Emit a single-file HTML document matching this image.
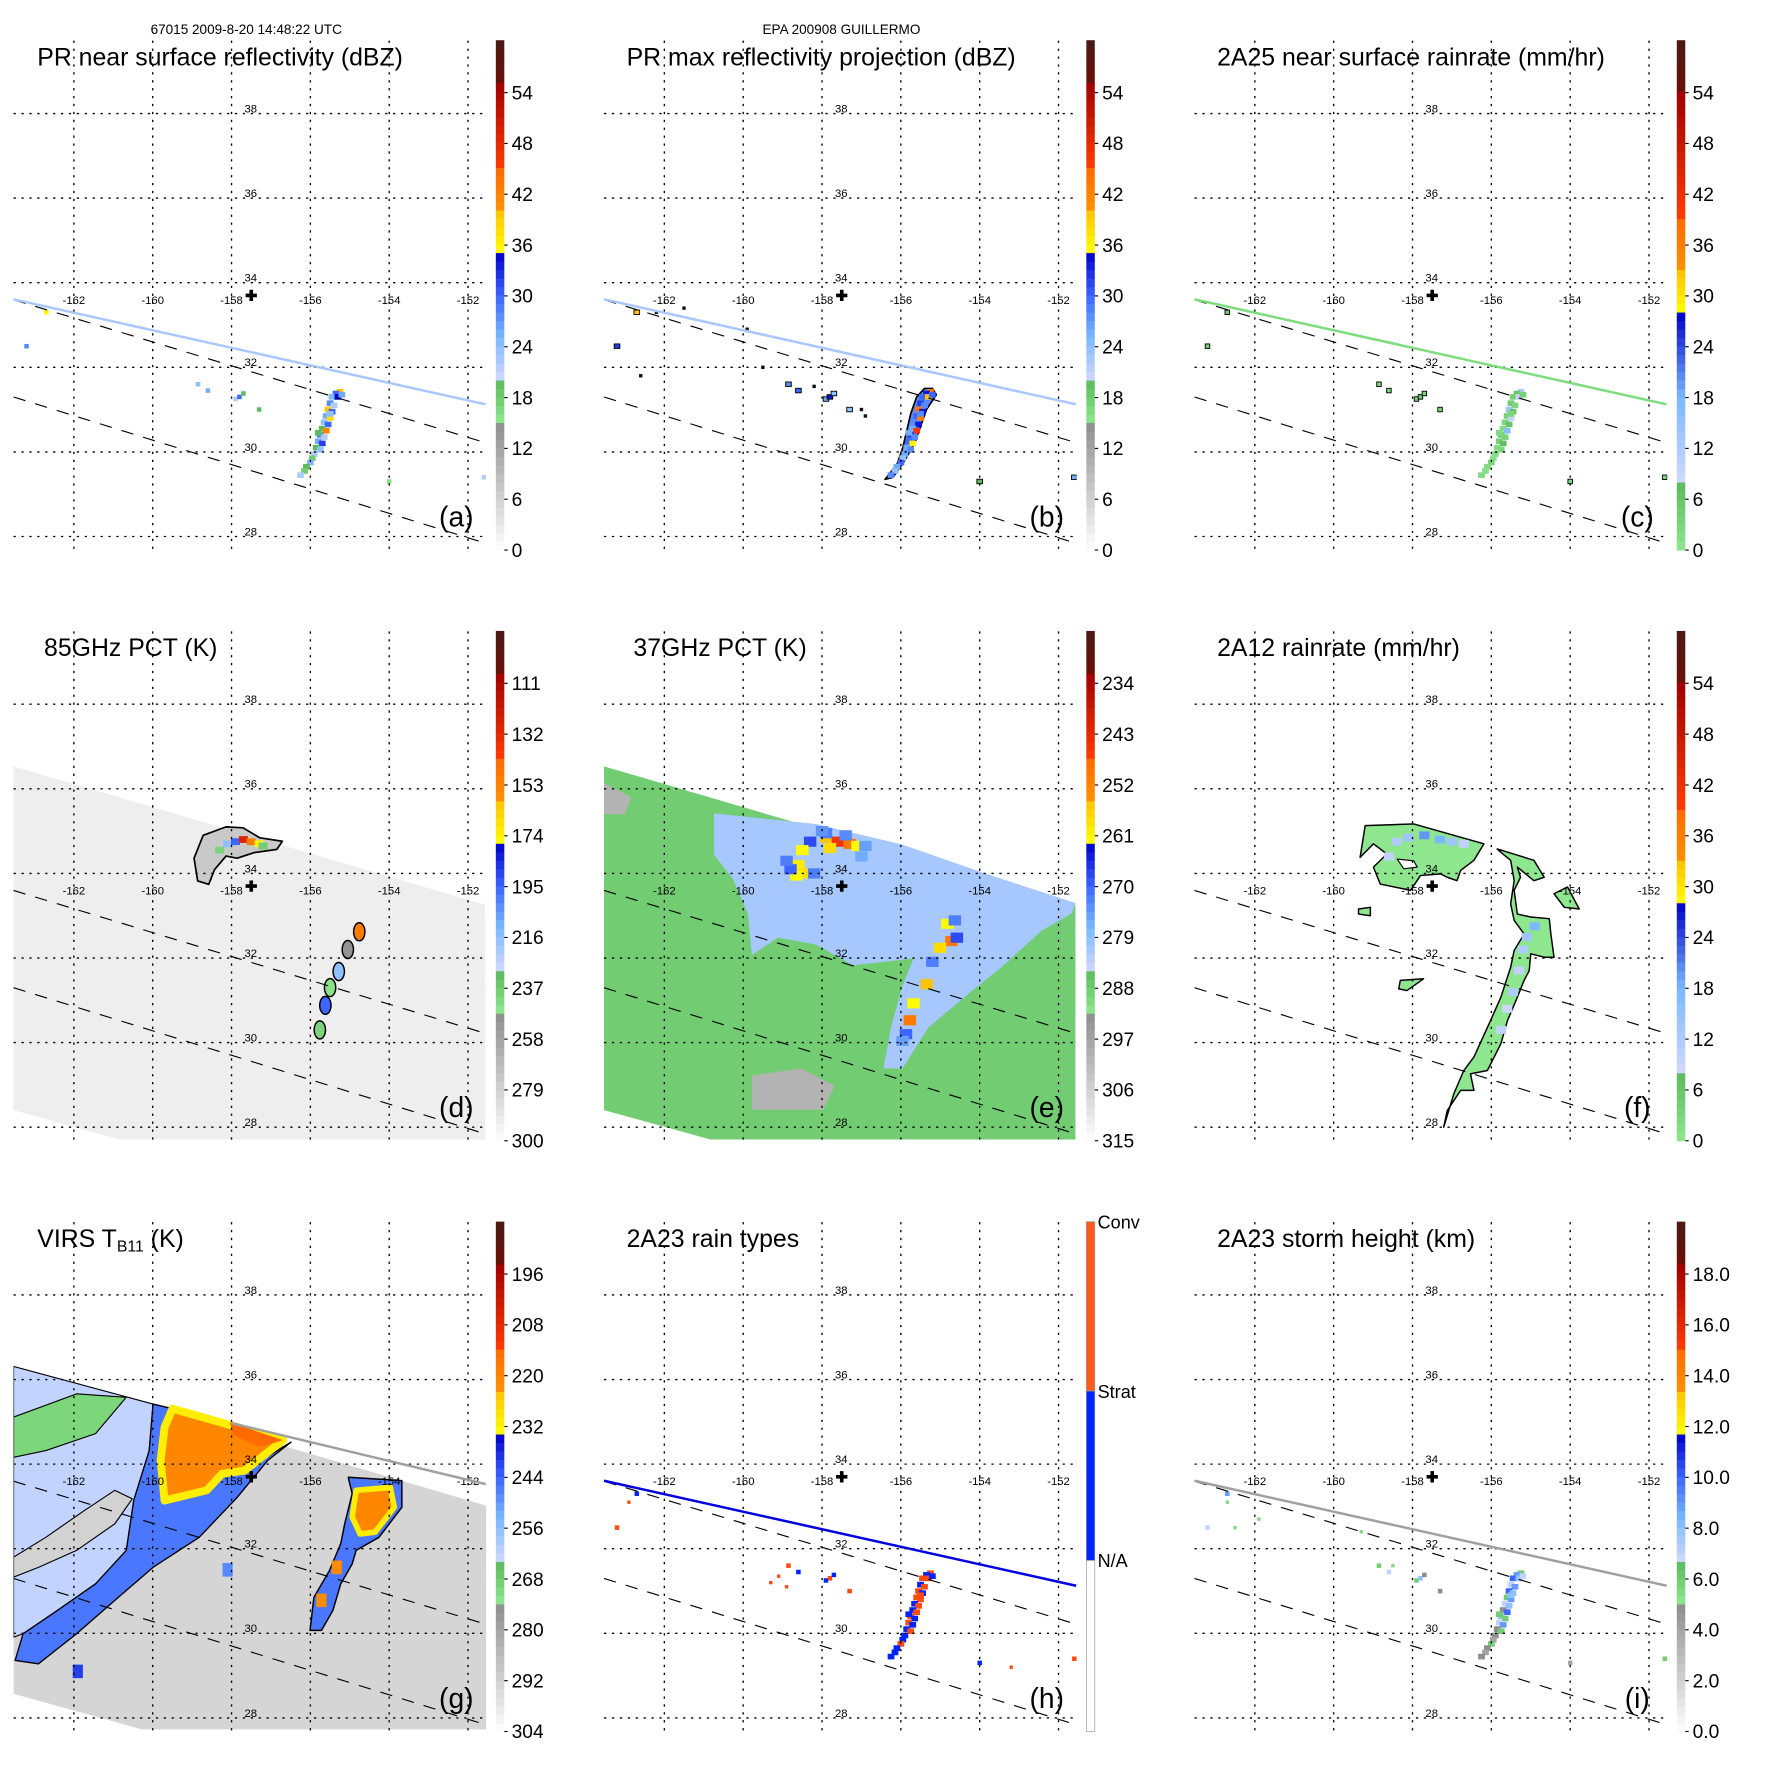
<!DOCTYPE html>
<html><head><meta charset="utf-8">
<style>
html,body{margin:0;padding:0;background:#fff;}
svg{display:block;font-family:"Liberation Sans",Arial,sans-serif;}
</style></head>
<body>
<svg id="fig" xmlns="http://www.w3.org/2000/svg" viewBox="0 0 1568 1568" width="1771" height="1771">
<rect x="0" y="0" width="1568" height="1568" fill="#fff"/>
<text x="218" y="30" font-size="12" text-anchor="middle">67015 2009-8-20 14:48:22 UTC</text>
<text x="745" y="30" font-size="12" text-anchor="middle">EPA 200908 GUILLERMO</text>
</svg>
<script>
// ---------- data ----------
const prCellLon = [-155.25,-155.35,-155.45,-155.3,-155.5,-155.4,-155.55,-155.45,-155.6,-155.5,-155.65,-155.55,-155.7,-155.6,-155.75,-155.65,-155.8,-155.7,-155.85,-155.75,-155.9,-155.95,-156.0,-156.1,-156.15,-156.25,-155.2,-155.5,-155.8];
const prCellLat = [31.42,31.38,31.30,31.3,31.15,31.1,31.0,30.95,30.85,30.8,30.7,30.65,30.55,30.5,30.4,30.35,30.25,30.2,30.1,30.05,29.95,29.85,29.75,29.65,29.55,29.45,31.35,30.9,30.45];
const reflA = [40,30,25,35,28,22,40,30,26,38,24,30,20,42,28,22,26,32,20,24,22,18,25,20,18,22,26,24,20];
const reflB = [44,34,30,40,32,28,44,34,30,42,28,34,26,46,32,28,30,36,26,28,26,24,30,26,24,28,30,28,26];
const rainC = [12,6,4,9,5,3,14,6,4,10,3,6,2,16,5,3,4,7,2,3,2,1,3,2,1,2,4,3,2];
const typeH = [2,1,2,2,1,2,2,1,2,2,1,2,1,2,2,1,2,1,1,2,1,1,2,1,1,1,1,2,1];
const heightI = [6,9,10,8,7,9,10,8,6,9,7,8,5,10,8,6,7,9,5,6,5,4,6,5,4,5,7,8,6];

const smallLon = [-157.9,-157.8,-157.7,-158.85,-158.6,-163.2,-162.7,-157.3,-154.0,-151.6];
const smallLat = [31.25,31.3,31.38,31.6,31.45,32.5,33.3,31.0,29.3,29.4];
const smallA = [22,30,20,24,26,28,36,20,16,22];

const specksLon = [-162.2,-161.5,-162.6,-159.9,-159.5,-158.2,-157.0,-156.9];
const specksLat = [33.3,33.4,31.8,32.9,32.0,31.55,31.0,30.85];

const outlineBLon = [-155.2,-155.1,-155.35,-155.5,-155.65,-155.9,-156.2,-156.4,-156.1,-155.95,-155.85,-155.75,-155.6,-155.4];
const outlineBLat = [31.5,31.35,31.0,30.6,30.2,29.8,29.4,29.35,29.7,30.1,30.5,30.9,31.3,31.5];

const swathLon = [-163.56,-151.57,-151.57,-160.83,-163.56];
const swathLat = [36.54,33.26,27.71,27.71,28.41];
const swathGLon = [-163.53,-151.54,-151.54,-160.28,-163.53];
const swathGLat = [36.31,33.02,27.73,27.73,28.57];

// panel d (85 GHz)
const dBlobLon = [-158.95,-158.72,-158.14,-157.71,-157.28,-156.71,-156.85,-157.43,-157.86,-158.14,-158.43,-158.58,-158.86];
const dBlobLat = [34.36,34.90,35.10,35.08,34.84,34.76,34.57,34.49,34.36,34.41,34.09,33.74,33.82];
const dCoreLon = [-158.1,-157.9,-157.7,-157.5,-157.3,-157.2,-158.3];
const dCoreLat = [34.7,34.75,34.8,34.75,34.7,34.65,34.55];
const dCoreVal = [216,195,130,150,174,237,240];
const dChainLon = [-154.76,-155.05,-155.28,-155.5,-155.62,-155.76];
const dChainLat = [32.62,32.2,31.68,31.3,30.88,30.3];
const dChainVal = [150,250,216,245,195,240];

// panel e (37 GHz)
const eBlueLon = [-160.74,-158.16,-155.96,-153.96,-151.57,-151.67,-152.43,-153.39,-154.25,-155.30,-155.96,-156.44,-156.25,-155.96,-155.68,-157.21,-158.16,-159.12,-159.78,-159.88,-160.26,-160.74];
const eBlueLat = [35.42,35.17,34.68,34.03,33.30,33.05,32.65,31.83,31.18,30.36,29.39,29.39,30.36,31.34,31.99,31.83,32.32,32.48,32.07,33.05,33.87,34.44];
const eGrayLon = [-159.78,-158.54,-157.68,-157.97,-159.78];
const eGrayLat = [29.22,29.39,28.98,28.41,28.41];
const eGray2Lon = [-163.56,-162.84,-163.0,-163.56];
const eGray2Lat = [36.15,35.8,35.4,35.4];
const eCellLon = [-158.3,-157.9,-157.6,-157.3,-157.1,-157.8,-158.5,-158.6,-158.45,-158.65,-158.8,-158.2,-157.9,-156.9,-158.0,-157.4,-154.82,-154.72,-155.01,-155.20,-155.34,-155.68,-155.77,-155.87,-154.63,-154.58,-155.96,-158.9,-157.0];
const eCellLat = [34.75,34.85,34.75,34.7,34.65,34.6,34.55,34.2,34.0,33.95,34.1,34.0,34.95,34.65,35.0,34.9,32.81,32.40,32.24,31.91,31.38,30.93,30.53,30.20,32.89,32.48,30.04,34.3,34.4];
const eCellVal = [268,255,245,250,262,258,262,260,259,262,270,272,272,275,274,273,262,250,258,272,255,262,250,270,272,268,275,272,276];

// panel f (2A12)
const fNorthLon = [-159.20,-157.97,-156.19,-156.44,-156.78,-156.87,-157.12,-157.29,-157.80,-158.05,-158.82,-158.99,-158.65,-158.99,-159.33];
const fNorthLat = [35.13,35.17,34.70,34.31,34.07,33.83,33.91,33.99,33.95,33.60,33.75,34.15,34.46,34.70,34.38];
const fHoleLon = [-158.39,-157.97,-157.88,-158.22];
const fHoleLat = [34.34,34.30,34.15,34.11];
const fBandLon = [-155.85,-154.92,-154.66,-154.92,-155.34,-155.26,-155.42,-155.34,-155.00,-154.53,-154.49,-154.41,-154.66,-155.00,-155.04,-155.17,-155.34,-155.59,-155.76,-156.10,-156.53,-156.44,-156.78,-157.12,-157.21,-156.95,-156.70,-156.44,-156.02,-155.76,-155.51,-155.42,-155.17,-155.42,-155.51,-155.42,-155.51,-155.76];
const fBandLat = [34.58,34.31,33.91,33.83,34.15,33.91,33.60,33.04,32.97,32.93,32.57,32.02,32.02,32.10,31.70,31.47,31.07,30.52,29.97,29.34,29.26,28.87,28.87,28.39,28.00,28.79,29.34,29.66,30.52,31.07,31.78,32.18,32.57,32.89,33.28,33.83,34.31,34.50];
const fEastLon = [-154.41,-154.07,-153.77,-154.15];
const fEastLat = [33.52,33.68,33.16,33.20];
const fSmall1Lon = [-158.31,-157.72,-158.14,-158.35];
const fSmall1Lat = [31.47,31.51,31.23,31.27];
const fSmall2Lon = [-159.37,-159.07,-159.07,-159.37];
const fSmall2Lat = [33.16,33.20,33.00,33.04];
const fCellLon = [-158.4,-158.1,-157.7,-157.3,-157.0,-156.7,-154.9,-155.1,-155.2,-155.3,-155.45,-155.6,-155.75,-158.6];
const fCellLat = [34.75,34.85,34.9,34.8,34.75,34.7,32.75,32.5,32.2,31.7,31.2,30.8,30.3,34.4];
const fCellVal = [12,14,20,18,14,10,18,14,12,10,12,9,10,10];

// panel g (VIRS)
const gLightLon = [-163.53,-159.99,-160.09,-160.48,-160.67,-161.45,-162.42,-163.29,-163.53];
const gLightLat = [36.31,35.42,34.32,33.14,31.96,31.17,30.54,29.99,29.91];
const gGreenLon = [-163.53,-161.93,-160.67,-161.45,-162.71,-163.53];
const gGreenLat = [35.11,35.66,35.58,34.72,34.32,34.16];
const gGapLon = [-160.52,-160.96,-161.93,-162.90,-163.53,-163.53,-162.71,-161.74,-160.96];
const gGapLat = [33.18,32.59,31.96,31.56,31.33,31.80,32.27,32.90,33.38];
const gBlueLon = [-159.99,-159.50,-159.70,-158.63,-158.24,-157.66,-156.49,-157.08,-157.85,-158.82,-159.99,-160.96,-161.93,-162.90,-163.49,-163.29,-162.42,-161.45,-160.67,-160.48,-160.09];
const gBlueLat = [35.42,35.31,33.14,33.38,33.77,33.85,34.52,34.09,33.22,32.27,31.56,30.78,29.99,29.28,29.36,29.99,30.54,31.17,31.96,33.14,34.32];
const gOrangeLon = [-159.50,-156.69,-157.66,-158.24,-158.63,-159.70,-159.80,-159.70];
const gOrangeLat = [35.31,34.57,33.85,33.77,33.38,33.14,34.09,34.87];
const gRedLon = [-158.05,-156.69,-157.27,-157.95];
const gRedLat = [34.99,34.57,34.40,34.68];
const gChainLon = [-155.04,-153.68,-153.68,-154.26,-154.84,-154.94,-155.23,-155.43,-155.72,-156.01,-155.91,-155.52,-155.23,-155.13,-154.94];
const gChainLat = [33.69,33.61,32.98,32.27,31.96,31.64,31.17,30.54,30.07,30.07,30.85,31.48,32.12,32.59,33.30];
const gCoreLon = [-154.84,-153.97,-153.87,-154.36,-154.74,-154.94];
const gCoreLat = [33.38,33.45,32.98,32.39,32.35,32.75];
const gSpotLon = [-155.33,-155.72,-158.1,-161.9];
const gSpotLat = [31.56,30.78,31.5,29.1];
const gSpotVal = [222,222,248,240];

// scattered extras for h and i
const hDotLon = [-159.3,-159.1,-158.9,-162.9,-153.2];
const hDotLat = [31.2,31.35,31.1,33.1,29.2];
const iDotLon = [-162.7,-162.5,-161.9,-159.3,-158.5];
const iDotLat = [33.1,32.5,32.7,32.4,31.6];

// tick labels
const latTicks = [38,36,34,32,30,28];
const lonTicks = [-162,-160,-158,-156,-154,-152];
const labA = ['54','48','42','36','30','24','18','12','6','0'];
const labD = ['111','132','153','174','195','216','237','258','279','300'];
const labE = ['234','243','252','261','270','279','288','297','306','315'];
const labG = ['196','208','220','232','244','256','268','280','292','304'];
const labI = ['18.0','16.0','14.0','12.0','10.0','8.0','6.0','4.0','2.0','0.0'];
const labH = ['Conv','Strat','N/A'];

// ---------- geometry / styling ----------
const NS='http://www.w3.org/2000/svg';
const svg=document.getElementById('fig');
const colOff=[0,522.8,1045.6], rowOff=[0,523,1046];
const CMAPS={
 std:[[0,'#ffffff'],[0.253,'#8c8c8c'],[0.2531,'#8ee68e'],[0.335,'#5cb85c'],[0.3351,'#d0d8ff'],[0.42,'#7ab8ff'],[0.5,'#3c64ff'],[0.583,'#0000c8'],[0.5831,'#ffff00'],[0.67,'#ffc000'],[0.6701,'#ff9000'],[0.749,'#ff6a00'],[0.7491,'#ff3c00'],[0.918,'#a00000'],[0.9181,'#6a1008'],[1,'#4a1a14']],
 rain:[[0,'#8ee68e'],[0.137,'#5cb85c'],[0.1371,'#d0d8ff'],[0.3,'#7ab8ff'],[0.465,'#0000c8'],[0.4651,'#ffff00'],[0.55,'#ffc000'],[0.5501,'#ff9000'],[0.65,'#ff6a00'],[0.6501,'#ff3c00'],[0.9,'#a00000'],[0.9001,'#6a1008'],[1,'#4a1a14']]
};
function hex(c){return [parseInt(c.slice(1,3),16),parseInt(c.slice(3,5),16),parseInt(c.slice(5,7),16)];}
function colorAt(f,name){
 const s=CMAPS[name]; f=Math.max(0,Math.min(1,f));
 for(let i=1;i<s.length;i++){ if(f<=s[i][0]){const a=s[i-1],b=s[i];const t=(f-a[0])/Math.max(1e-6,b[0]-a[0]);const ca=hex(a[1]),cb=hex(b[1]);return 'rgb('+ca.map((v,k)=>Math.round(v+(cb[k]-v)*t)).join(',')+')';}}
 return s[s.length-1][1];
}
const panels=[
 {id:'a',c:0,r:0,title:'PR near surface reflectivity (dBZ)',tx:33,cmap:'std',labels:labA,norm:v=>v/60.2,line:'#a8c8ff'},
 {id:'b',c:1,r:0,title:'PR max reflectivity projection (dBZ)',tx:32,cmap:'std',labels:labA,norm:v=>v/60.2,line:'#a8c8ff'},
 {id:'c',c:2,r:0,title:'2A25 near surface rainrate (mm/hr)',tx:32,cmap:'rain',labels:labA,norm:v=>v/60.2,line:'#7ddc7d'},
 {id:'d',c:0,r:1,title:'85GHz PCT (K)',tx:39,cmap:'std',labels:labD,norm:v=>(300-v)/210.6,line:null},
 {id:'e',c:1,r:1,title:'37GHz PCT (K)',tx:38,cmap:'std',labels:labE,norm:v=>(315-v)/90.3,line:null},
 {id:'f',c:2,r:1,title:'2A12 rainrate (mm/hr)',tx:32,cmap:'rain',labels:labA,norm:v=>v/60.2,line:null},
 {id:'g',c:0,r:2,title:'VIRS',tx:33,cmap:'std',labels:labG,norm:v=>(304-v)/120.4,line:'#a0a0a0',lineG:true},
 {id:'h',c:1,r:2,title:'2A23 rain types',tx:32,cmap:'std',labels:labH,norm:v=>v,line:'#0000e0'},
 {id:'i',c:2,r:2,title:'2A23 storm height (km)',tx:32,cmap:'std',labels:labI,norm:v=>v/20.06,line:'#a0a0a0'}
];
function X(p,lon){return colOff[p.c]+65.4+(lon+162)*34.9;}
function Y(p,lat){return rowOff[p.r]+475-(lat-28)*37.45;}
function mk(tag,parent){const e=document.createElementNS(NS,tag);parent.appendChild(e);return e;}
function ptsOf(p,lons,lats){return lons.map((l,i)=>X(p,l).toFixed(1)+','+Y(p,lats[i]).toFixed(1)).join(' ');}
function poly(p,g,lons,lats,fill,stroke,sw,name){
 const e=mk('polygon',g);
 e.setAttribute('points',ptsOf(p,lons,lats));
 e.setAttribute('fill',fill);
 e.setAttribute('stroke',stroke||'none');
 e.setAttribute('stroke-width',sw||1.2);
 e.setAttribute('stroke-linejoin','round');
 
 
 return e;
}
function cells(p,g,lons,lats,vals,colorFn,w,h,name,stroke){
 lons.forEach((l,i)=>{
  const r=mk('rect',g);
  r.setAttribute('x',(X(p,l)-w/2).toFixed(1));
  r.setAttribute('y',(Y(p,lats[i])-h/2).toFixed(1));
  r.setAttribute('width',w);
  r.setAttribute('height',h);
  r.setAttribute('fill',colorFn(vals[i]));
  if(stroke){r.setAttribute('stroke',stroke);r.setAttribute('stroke-width',0.8);}
  
  
 });
}

panels.forEach(p=>{
 const ox=colOff[p.c], oy=rowOff[p.r];
 const g=mk('g',svg);
 
 
 const cp=mk('clipPath',g);
 cp.setAttribute('id','clip-'+p.id);
 const cr=mk('rect',cp);
 cr.setAttribute('x',ox+12);cr.setAttribute('y',oy+35);cr.setAttribute('width',418.5);cr.setAttribute('height',451);
 const dg=mk('g',g);
 dg.setAttribute('clip-path','url(#clip-'+p.id+')');
 
 
 const C=v=>colorAt(p.norm(v),p.cmap);

 if(p.id==='a'){
  cells(p,dg,prCellLon,prCellLat,reflA,C,6,5,'reflectivity-pixel');
  cells(p,dg,smallLon,smallLat,smallA,C,4,4,'reflectivity-pixel');
 }
 if(p.id==='b'){
  poly(p,dg,outlineBLon,outlineBLat,'#5a8cff','#000',1.5,'max-reflectivity-contour');
  cells(p,dg,prCellLon,prCellLat,reflB,C,6,5,'max-reflectivity-pixel');
  cells(p,dg,smallLon,smallLat,smallA.map(v=>v+4),C,5,4,'max-reflectivity-pixel','#000');
  cells(p,dg,specksLon,specksLat,specksLon.map(()=>30),()=>'#111',3,3,'speck');
 }
 if(p.id==='c'){
  cells(p,dg,prCellLon,prCellLat,rainC,C,6,5,'rainrate-pixel');
  cells(p,dg,smallLon,smallLat,smallA.map(v=>Math.round(v/8)),C,4,4,'rainrate-pixel','#000');
 }
 if(p.id==='d'){
  poly(p,dg,swathLon,swathLat,C(292),'none',0,'swath-85ghz');
  poly(p,dg,dBlobLon,dBlobLat,C(275),'#000',1.5,'cold-cloud-contour');
  cells(p,dg,dCoreLon,dCoreLat,dCoreVal,C,8,6,'pct-pixel');
  dChainLon.forEach((l,i)=>{
   const e=mk('ellipse',dg);
   e.setAttribute('cx',X(p,l));e.setAttribute('cy',Y(p,dChainLat[i]));
   e.setAttribute('rx',5);e.setAttribute('ry',8);
   e.setAttribute('fill',C(dChainVal[i]));e.setAttribute('stroke','#000');e.setAttribute('stroke-width',1.3);
   
   
  });
 }
 if(p.id==='e'){
  poly(p,dg,swathLon,swathLat,C(288),'none',0,'swath-37ghz');
  poly(p,dg,eGrayLon,eGrayLat,C(300),'none',0,'warm-patch');
  poly(p,dg,eGray2Lon,eGray2Lat,C(300),'none',0,'warm-patch');
  poly(p,dg,eBlueLon,eBlueLat,C(281),'none',0,'scattering-region');
  cells(p,dg,eCellLon,eCellLat,eCellVal,C,11,9,'pct-pixel');
 }
 if(p.id==='f'){
  poly(p,dg,fNorthLon,fNorthLat,'#8ee68e','#000',1.3,'rain-area-north');
  poly(p,dg,fHoleLon,fHoleLat,'#ffffff','#000',1,'rain-hole');
  poly(p,dg,fBandLon,fBandLat,'#8ee68e','#000',1.3,'rain-band');
  poly(p,dg,fEastLon,fEastLat,'#8ee68e','#000',1.3,'rain-area-east');
  poly(p,dg,fSmall1Lon,fSmall1Lat,'#8ee68e','#000',1.3,'rain-area-small');
  poly(p,dg,fSmall2Lon,fSmall2Lat,'#8ee68e','#000',1.3,'rain-area-small');
  cells(p,dg,fCellLon,fCellLat,fCellVal,C,9,7,'rainrate-pixel');
 }
 if(p.id==='g'){
  poly(p,dg,swathGLon,swathGLat,C(293),'none',0,'swath-virs');
  poly(p,dg,gLightLon,gLightLat,C(262),'#000',1,'cloud-region');
  poly(p,dg,gGreenLon,gGreenLat,C(270),'#000',1,'cloud-region-green');
  poly(p,dg,gGapLon,gGapLat,C(292),'#000',1,'clear-gap');
  poly(p,dg,gBlueLon,gBlueLat,C(246),'#000',1.2,'cloud-band');
  poly(p,dg,gOrangeLon,gOrangeLat,C(221),C(231),7,'cold-cloud-top');
  poly(p,dg,gRedLon,gRedLat,C(214),'none',0,'coldest-cloud-top');
  poly(p,dg,gChainLon,gChainLat,C(246),'#000',1.3,'convective-line');
  poly(p,dg,gCoreLon,gCoreLat,C(221),C(231),5,'convective-core');
  cells(p,dg,gSpotLon,gSpotLat,gSpotVal,C,9,12,'cold-spot');
 }
 if(p.id==='h'){
  cells(p,dg,prCellLon,prCellLat,typeH,v=>v===2?'#ff4a10':'#0022ff',6,5,'rain-type-pixel');
  cells(p,dg,smallLon,smallLat,smallLon.map((_,i)=>i%2+1),v=>v===2?'#ff4a10':'#0022ff',4,4,'rain-type-pixel');
  cells(p,dg,hDotLon,hDotLat,hDotLon.map(()=>2),()=>'#ff4a10',3,3,'rain-type-dot');
 }
 if(p.id==='i'){
  cells(p,dg,prCellLon,prCellLat,heightI,C,6,5,'storm-height-pixel');
  cells(p,dg,smallLon,smallLat,smallA.map(v=>Math.round(v/4)),C,4,4,'storm-height-pixel');
  cells(p,dg,iDotLon,iDotLat,iDotLon.map(()=>5.5),C,3,3,'storm-height-dot');
 }

 // grid lines
 latTicks.forEach(lat=>{
  const l=mk('line',g);
  l.setAttribute('x1',ox+12);l.setAttribute('x2',ox+430);
  l.setAttribute('y1',Y(p,lat));l.setAttribute('y2',Y(p,lat));
  l.setAttribute('stroke','#000');l.setAttribute('stroke-width',1.2);l.setAttribute('stroke-dasharray','2,5');
  
  
  const t=mk('text',g);
  t.setAttribute('x',ox+222);t.setAttribute('y',Y(p,lat)-1);
  t.setAttribute('font-size',10);t.setAttribute('text-anchor','middle');
  t.textContent=String(lat);
  
  
 });
 lonTicks.forEach(lon=>{
  const l=mk('line',g);
  l.setAttribute('x1',X(p,lon));l.setAttribute('x2',X(p,lon));
  l.setAttribute('y1',oy+36);l.setAttribute('y2',oy+486);
  l.setAttribute('stroke','#000');l.setAttribute('stroke-width',1.2);l.setAttribute('stroke-dasharray','2,5');
  
  
  const t=mk('text',g);
  t.setAttribute('x',X(p,lon));t.setAttribute('y',oy+269);
  t.setAttribute('font-size',10);t.setAttribute('text-anchor','middle');
  t.textContent=String(lon);
  
  
 });
 // swath edge dashed lines
 [[265.4,392],[351.5,481]].forEach(s=>{
  const l=mk('line',g);
  l.setAttribute('x1',ox+12);l.setAttribute('y1',oy+s[0]);l.setAttribute('x2',ox+430);l.setAttribute('y2',oy+s[1]);
  l.setAttribute('stroke','#000');l.setAttribute('stroke-width',1);l.setAttribute('stroke-dasharray','11,9');
  
  
 });
 // orbit / cross-section line
 if(p.line){
  const l=mk('line',g);
  if(p.lineG){l.setAttribute('x1',ox+205);l.setAttribute('y1',oy+214);l.setAttribute('x2',ox+430);l.setAttribute('y2',oy+268);}
  else{l.setAttribute('x1',ox+12);l.setAttribute('y1',oy+265);l.setAttribute('x2',ox+430);l.setAttribute('y2',oy+358);}
  l.setAttribute('stroke',p.line);l.setAttribute('stroke-width',2.2);
  
  
 }
 // storm center cross
 const cx=X(p,-157.5), cy=Y(p,33.7);
 const cross=mk('path',g);
 cross.setAttribute('d',`M${cx-5},${cy}H${cx+5}M${cx},${cy-5}V${cy+5}`);
 cross.setAttribute('stroke','#000');cross.setAttribute('stroke-width',3.2);
 
 
 // title
 const tt=mk('text',g);
 tt.setAttribute('x',ox+p.tx);tt.setAttribute('y',oy+58);tt.setAttribute('font-size',22);
 if(p.id==='g'){
  tt.appendChild(document.createTextNode('VIRS T'));
  const s=mk('tspan',tt);s.setAttribute('font-size',14);s.setAttribute('dy',4);s.textContent='B11';
  const s2=mk('tspan',tt);s2.setAttribute('dy',-4);s2.textContent=' (K)';
 } else tt.textContent=p.title;
 
 
 // panel letter
 const lt=mk('text',g);
 lt.setAttribute('x',ox+404);lt.setAttribute('y',oy+466);lt.setAttribute('font-size',25);lt.setAttribute('text-anchor','middle');
 lt.textContent='('+p.id+')';
 
 
 // colorbar
 const cb=mk('g',g);
 
 
 const bx=ox+439, top=oy+35.6, bot=oy+487, bw=7.5;
 if(p.id==='h'){
  const segs=[['#ff5a1e',0,150],['#0022ff',150,300],['#ffffff',300,451.4]];
  segs.forEach(sg=>{
   const r=mk('rect',cb);
   r.setAttribute('x',bx);r.setAttribute('y',top+sg[1]);r.setAttribute('width',bw);r.setAttribute('height',sg[2]-sg[1]);
   r.setAttribute('fill',sg[0]);r.setAttribute('stroke','#999');r.setAttribute('stroke-width',0.6);
   
   
  });
  labH.forEach((lb,i)=>{
   const t=mk('text',cb);
   t.setAttribute('x',bx+10);t.setAttribute('y',top+6+i*150);t.setAttribute('font-size',16);
   t.textContent=lb;
   
   
  });
 } else {
  const n=60;
  for(let k=0;k<n;k++){
   const r=mk('rect',cb);
   const y0=bot-(k+1)*(bot-top)/n;
   r.setAttribute('x',bx);r.setAttribute('y',y0.toFixed(2));r.setAttribute('width',bw);r.setAttribute('height',((bot-top)/n+0.4).toFixed(2));
   r.setAttribute('fill',colorAt((k+0.5)/n,p.cmap));
   
   
  }
  p.labels.forEach((lb,i)=>{
   const yy=oy+82+i*45;
   const tk=mk('line',cb);
   tk.setAttribute('x1',bx+bw);tk.setAttribute('x2',bx+bw+3);tk.setAttribute('y1',yy);tk.setAttribute('y2',yy);
   tk.setAttribute('stroke','#000');tk.setAttribute('stroke-width',1);
   
   
   const t=mk('text',cb);
   t.setAttribute('x',bx+14);t.setAttribute('y',yy+6);t.setAttribute('font-size',17);
   t.textContent=lb;
   
   
  });
 }
});
</script>
</body></html>
